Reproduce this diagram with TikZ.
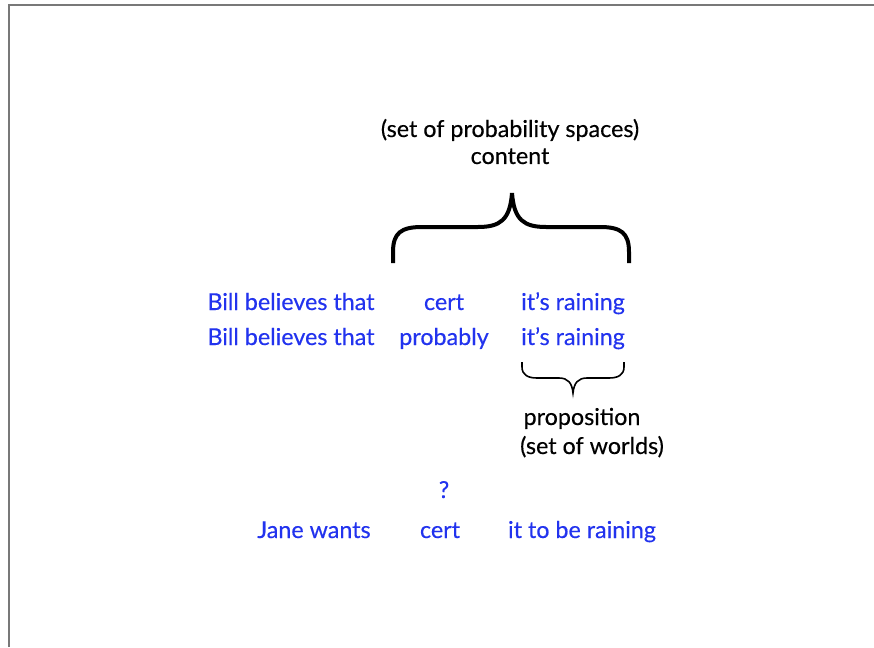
\documentclass[tikz,border=0pt]{standalone}
\usepackage{fontspec}
\setmainfont{Lato}
\newfontfamily\diagfont{Lato}[FakeBold=0.35]
\definecolor{txtblue}{RGB}{34,51,238}
\definecolor{framegray}{RGB}{120,120,120}
\tikzset{
  bt/.style={text=txtblue, inner sep=0pt, anchor=base, font=\diagfont\fontsize{23.3}{26}\selectfont},
  kt/.style={text=black, inner sep=0pt, anchor=base, font=\diagfont\fontsize{23.3}{26}\selectfont},
  bigbrace/.style={line width=4pt, line join=miter},
  smallbrace/.style={line width=1.6pt, line join=miter},
}
\begin{document}
\begin{tikzpicture}[x=1pt,y=-1pt]
\useasboundingbox (0,0) rectangle (874,647);
\draw[framegray, line width=1.5pt] (9,647) -- (9,5) -- (874,5);
% top labels
\node[kt] (spaces) at (510,137) {(set of probability spaces)};
\node[kt] (content) at (510,164) {content};
% big brace
\draw[bigbrace] (393,263) -- (393,252) .. controls (393,233) and (401,227) .. (422,227) -- (478,227) .. controls (500,227) and (510,220) .. (512,193) .. controls (514,220) and (524,227) .. (546,227) -- (600,227) .. controls (621,227) and (629,233) .. (629,252) -- (629,263);
% rows
\node[bt] (b1) at (291,310) {Bill believes that};
\node[bt] (c1) at (444,310) {cert};
\node[bt] (r1) at (573,310) {it’s raining};
\node[bt] (b2) at (291,345) {Bill believes that};
\node[bt] (c2) at (444,345) {probably};
\node[bt] (r2) at (573,345) {it’s raining};
% small brace
\draw[smallbrace] (522,362) -- (522,367) .. controls (522,375) and (528,378) .. (537,378) -- (559,378) .. controls (568,378) and (572,383) .. (573,393) .. controls (574,383) and (578,378) .. (587,378) -- (609,378) .. controls (618,378) and (624,375) .. (624,367) -- (624,362);
\node[kt] (prop) at (582,425) {proposition};
\node[kt] (worlds) at (592,454) {(set of worlds)};
\node[bt] (q) at (444,498) {?};
\node[bt] (jane) at (314,538) {Jane wants};
\node[bt] (c3) at (440,538) {cert};
\node[bt] (r3) at (582,538) {it to be raining};
\end{tikzpicture}
\end{document}
